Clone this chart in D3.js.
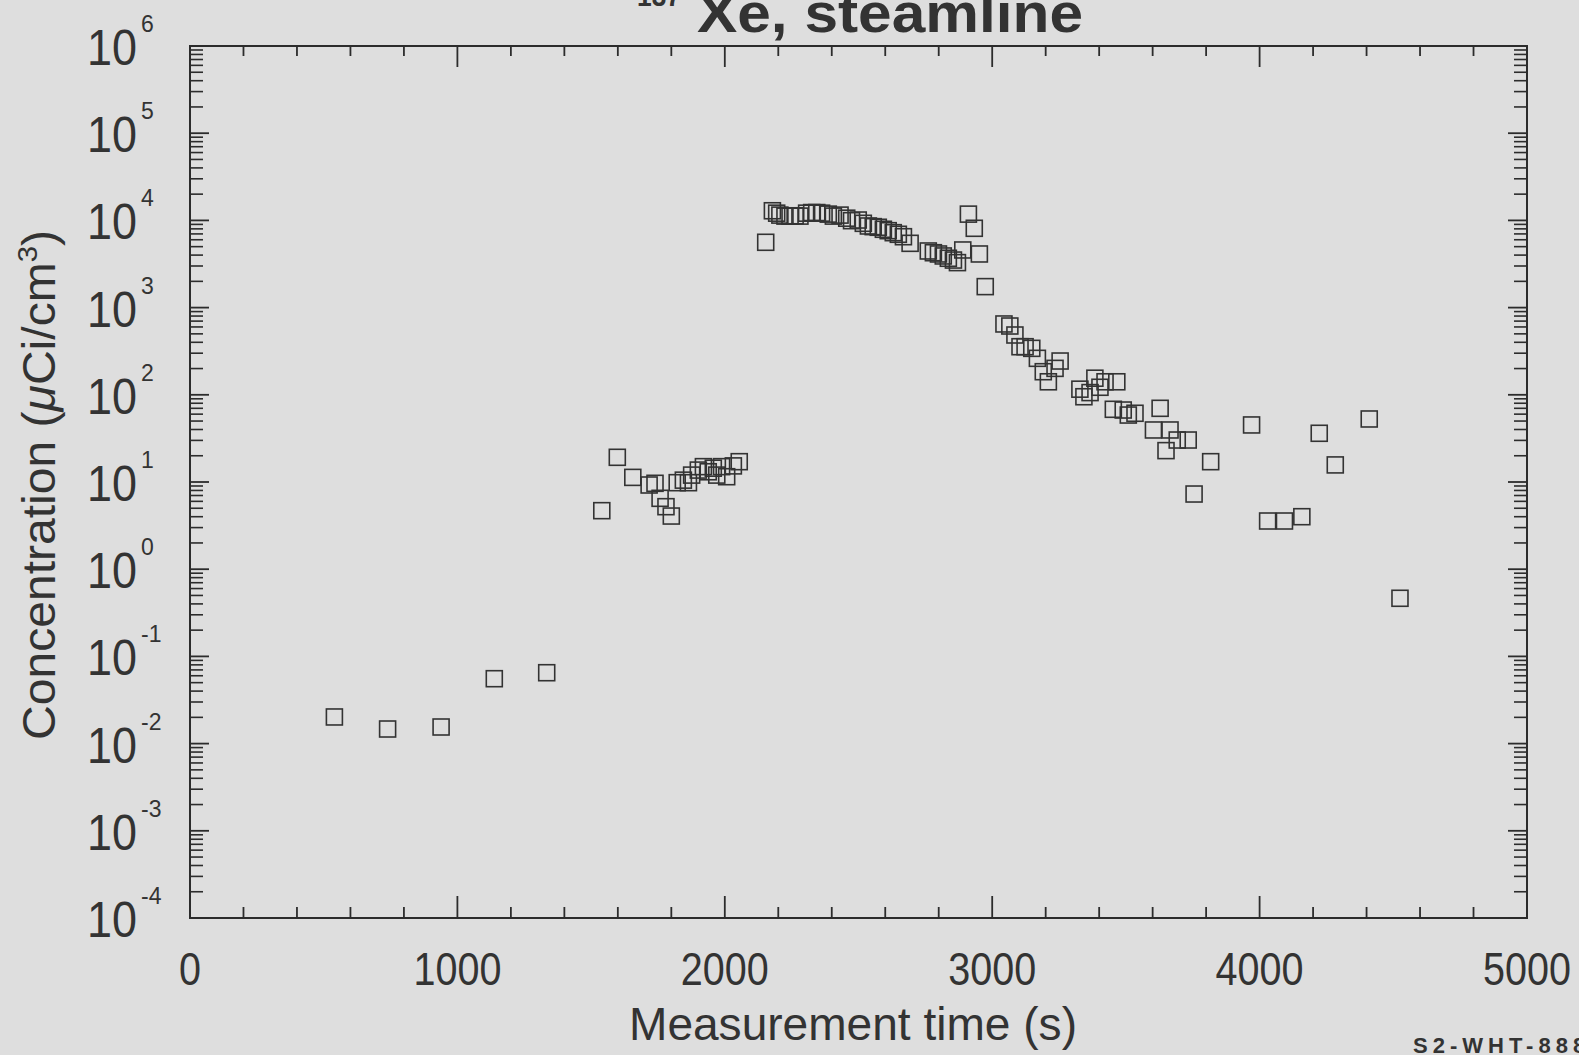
<!DOCTYPE html>
<html>
<head>
<meta charset="utf-8">
<script src="https://cdn.jsdelivr.net/npm/d3@7"></script>
<style>
html,body{margin:0;padding:0;background:#dedede;overflow:hidden;}
svg{display:block;}
text{font-family:"Liberation Sans",Arial,Helvetica,sans-serif;fill:#333;}
</style>
</head>
<body>
<svg id="chart" width="1579" height="1055"></svg>
<script>
const times = [540, 739, 939, 1138, 1334, 1540, 1598, 1656, 1717, 1739, 1758, 1780, 1800, 1822, 1845, 1864, 1876, 1901, 1920, 1938, 1957, 1970, 1988, 2007, 2032, 2054,
  2153, 2178, 2194, 2206, 2225, 2244, 2263, 2281, 2306, 2325, 2344, 2362, 2387, 2406, 2431, 2456, 2474, 2499, 2518, 2537, 2555, 2574, 2593, 2611, 2630, 2649, 2668, 2693, 2761, 2780, 2799, 2817, 2836, 2855, 2870, 2890, 2911, 2933, 2952, 2974,
  3044, 3066, 3085, 3104, 3123, 3148, 3169, 3191, 3210, 3235, 3254, 3328, 3343, 3366, 3384, 3403, 3422, 3466, 3453, 3490, 3509, 3534, 3628, 3603, 3665, 3692, 3733, 3650, 3817, 3755, 3970, 4030, 4093, 4158, 4223, 4283, 4410, 4525];
const concentration = [0.0202, 0.0147, 0.0155, 0.0555, 0.065, 4.69, 19.2, 11.3, 9.24, 9.66, 6.5, 5.21, 4.07, 9.82, 10.5, 9.82, 12.0, 13.7, 15.0, 13.1, 14.4, 12.0, 15.0, 11.5, 15.3, 17.1,
  5610, 12900, 12100, 11500, 11200, 11200, 11300, 11200, 12100, 12300, 12300, 12100, 11800, 11200, 11500, 10600, 9930, 10100, 9260, 8630, 8480, 8340, 7910, 7620, 7230, 6930, 6500, 5460, 4460, 4260, 4120, 3910, 3680, 3510, 3280, 4580, 11800, 8120, 4120, 1740,
  649, 615, 485, 356, 356, 341, 262, 184, 141, 201, 244, 116, 95, 106, 155, 122, 141, 141, 68.2, 66.9, 58.6, 61.4, 70, 39.5, 39.5, 30.3, 30.3, 22.9, 17.1, 7.28, 45.1, 3.57, 3.57, 4.0, 36.2, 15.7, 52.8, 0.464];
const xTickLabels = ["0", "1000", "2000", "3000", "4000", "5000"];
const yExponents = ["-4", "-3", "-2", "-1", "0", "1", "2", "3", "4", "5", "6"];
const titleIsotope = "137";
const titleText = "Xe, steamline";
const xTitle = "Measurement time (s)";
const yTitleParts = ["Concentration (", "\u03BC", "Ci/cm", "3", ")"];
const figureCode = "S2-WHT-888";

const svg = d3.select("#chart");
const L = 190, R = 1527, T = 46, B = 918;
const x = d3.scaleLinear().domain([0, 5000]).range([L, R]);
const y = d3.scaleLog().domain([1e-4, 1e6]).range([B, T]);
const ink = "#2c2c2c";

// frame
svg.append("rect").attr("x", L).attr("y", T).attr("width", R - L).attr("height", B - T)
  .attr("fill", "none").attr("stroke", ink).attr("stroke-width", 2);

// x ticks (inward, bottom and top)
d3.range(0, 5001, 200).forEach(v => {
  const major = v % 1000 === 0;
  svg.append("line").attr("x1", x(v)).attr("x2", x(v)).attr("y1", B).attr("y2", B - (major ? 22 : 11))
    .attr("stroke", ink).attr("stroke-width", 1.8);
  svg.append("line").attr("x1", x(v)).attr("x2", x(v)).attr("y1", T).attr("y2", T + (major ? 21 : 10))
    .attr("stroke", ink).attr("stroke-width", 1.8);
});

// y ticks (inward, left and right) and labels
yExponents.forEach(e => {
  const p = +e;
  const base = Math.pow(10, p);
  svg.append("line").attr("x1", L).attr("x2", L + 19).attr("y1", y(base)).attr("y2", y(base)).attr("stroke", ink).attr("stroke-width", 1.8);
  svg.append("line").attr("x1", R).attr("x2", R - 19).attr("y1", y(base)).attr("y2", y(base)).attr("stroke", ink).attr("stroke-width", 1.8);
  if (p < 6) {
    for (let m = 2; m <= 9; m++) {
      const v = m * base;
      svg.append("line").attr("x1", L).attr("x2", L + 13).attr("y1", y(v)).attr("y2", y(v)).attr("stroke", ink).attr("stroke-width", 1.6);
      svg.append("line").attr("x1", R).attr("x2", R - 13).attr("y1", y(v)).attr("y2", y(v)).attr("stroke", ink).attr("stroke-width", 1.6);
    }
  }
  svg.append("text").attr("x", 137).attr("y", y(base) + 19).attr("text-anchor", "end")
    .attr("font-size", 50).attr("textLength", 50).attr("lengthAdjust", "spacingAndGlyphs").text("10");
  svg.append("text").attr("x", 141).attr("y", y(base) - 14)
    .attr("font-size", 23).text(e.replace("-", "\u2010"));
});

// x tick labels
xTickLabels.forEach(s => {
  svg.append("text").attr("x", x(+s)).attr("y", 985).attr("text-anchor", "middle")
    .attr("font-size", 46).attr("textLength", 22 * s.length).attr("lengthAdjust", "spacingAndGlyphs").text(s);
});

// axis titles
svg.append("text").attr("x", 853).attr("y", 1040).attr("text-anchor", "middle")
  .attr("font-size", 47).attr("textLength", 448).attr("lengthAdjust", "spacingAndGlyphs").text(xTitle);
const yt = svg.append("text").attr("transform", "translate(55,485) rotate(-90)").attr("text-anchor", "middle")
  .attr("font-size", 46).attr("textLength", 510).attr("lengthAdjust", "spacingAndGlyphs");
yt.append("tspan").text(yTitleParts[0]);
yt.append("tspan").attr("font-style", "italic").text(yTitleParts[1]);
yt.append("tspan").text(yTitleParts[2]);
yt.append("tspan").attr("font-size", 28).attr("dy", -18).text(yTitleParts[3]);
yt.append("tspan").attr("dy", 18).text(yTitleParts[4]);

// title
svg.append("text").attr("x", 637).attr("y", 6).attr("font-size", 30).attr("font-weight", "bold")
  .attr("textLength", 44).attr("lengthAdjust", "spacingAndGlyphs").text(titleIsotope);
svg.append("text").attr("x", 697).attr("y", 32).attr("font-size", 56).attr("font-weight", "bold")
  .attr("textLength", 386).attr("lengthAdjust", "spacingAndGlyphs").text(titleText);

// figure code
svg.append("text").attr("x", 1413).attr("y", 1053).attr("font-size", 22).attr("font-weight", "bold")
  .attr("letter-spacing", 5).text(figureCode);

// data squares
const s = 16;
svg.append("g").selectAll("rect").data(times.map((t, i) => [t, concentration[i]])).join("rect")
  .attr("x", d => x(d[0]) - s / 2).attr("y", d => y(d[1]) - s / 2)
  .attr("width", s).attr("height", s)
  .attr("fill", "none").attr("stroke", "#333").attr("stroke-width", 1.6);
</script>
</body>
</html>
